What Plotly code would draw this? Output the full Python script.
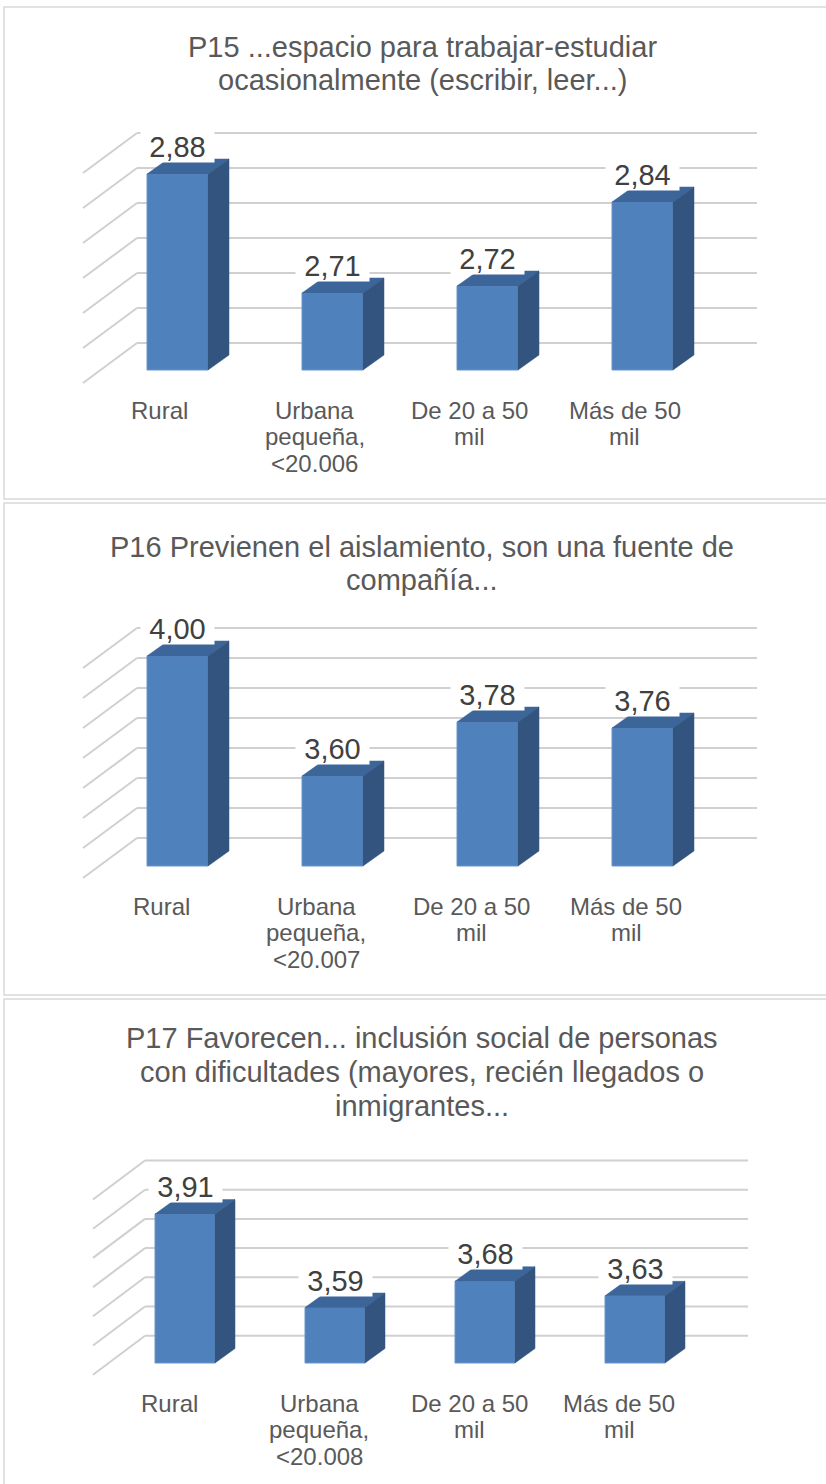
import plotly.graph_objects as go

W, H = 826, 1484

# ---------------- data ----------------
titles_p15 = ["P15 ...espacio para trabajar-estudiar", "ocasionalmente (escribir, leer...)"]
titles_p16 = ["P16 Previenen el aislamiento, son una fuente de", "compañía..."]
titles_p17 = ["P17 Favorecen... inclusión social de personas",
              "con dificultades (mayores, recién llegados o", "inmigrantes..."]

categories_p15 = ["Rural", "Urbana\npequeña,\n<20.006", "De 20 a 50\nmil", "Más de 50\nmil"]
categories_p16 = ["Rural", "Urbana\npequeña,\n<20.007", "De 20 a 50\nmil", "Más de 50\nmil"]
categories_p17 = ["Rural", "Urbana\npequeña,\n<20.008", "De 20 a 50\nmil", "Más de 50\nmil"]

values_p15 = [2.88, 2.71, 2.72, 2.84]
values_p16 = [4.00, 3.60, 3.78, 3.76]
values_p17 = [3.91, 3.59, 3.68, 3.63]

ticks_p15 = [2.60, 2.65, 2.70, 2.75, 2.80, 2.85, 2.90]
ticks_p16 = [3.3, 3.4, 3.5, 3.6, 3.7, 3.8, 3.9, 4.0]
ticks_p17 = [3.4, 3.5, 3.6, 3.7, 3.8, 3.9, 4.0]

# ---------------- layout geometry (pixels) ----------------
geo_p15 = dict(top=7, bottom=499, floor=370, ppu=700, cx0=177.5, slot=155, DX=54, DY=40,
               frac=0.325, bw=61, bdx=21, bdy=15, wall=(137, 757), title_y=[47, 80], cat_y=410)
geo_p16 = dict(top=503, bottom=995, floor=866, ppu=300, cx0=177.5, slot=155, DX=54, DY=40,
               frac=0.3, bw=61, bdx=21, bdy=15, wall=(137, 757), title_y=[547, 580], cat_y=906)
geo_p17 = dict(top=999, bottom=1484, floor=1363, ppu=292, cx0=185, slot=150, DX=52, DY=39,
               frac=0.3, bw=60, bdx=20, bdy=14.5, wall=(145, 748), title_y=[1038, 1072, 1106],
               cat_y=1403)

panels = [
    (titles_p15, categories_p15, values_p15, ticks_p15, geo_p15),
    (titles_p16, categories_p16, values_p16, ticks_p16, geo_p16),
    (titles_p17, categories_p17, values_p17, ticks_p17, geo_p17),
]

FONT = "Liberation Sans, Arial, sans-serif"
FRONT = "#4f81bd"
TOP = "#3c659a"
SIDE = "#33547e"
GRID = "#d0d0d0"
TEXT_DARK = "#404040"
TEXT_GRAY = "#595959"

fig = go.Figure()
shapes = []
annotations = []
layout_axes = {}

for k, (titles, cats, vals, ticks, g) in enumerate(panels, start=1):
    xa = "x" if k == 1 else f"x{k}"
    ya = "y" if k == 1 else f"y{k}"
    xname = "xaxis" if k == 1 else f"xaxis{k}"
    yname = "yaxis" if k == 1 else f"yaxis{k}"
    vmin = ticks[0]
    ppu, slot, cx0 = g["ppu"], g["slot"], g["cx0"]

    def X(px):
        return (px - cx0) / slot

    def Y(v, d):
        # value v at depth d (0 front, 1 back) expressed in bar-plane data units
        return v + (d - g["frac"]) * g["DY"] / ppu

    yr = [vmin + (g["floor"] - g["bottom"]) / ppu, vmin + (g["floor"] - g["top"]) / ppu]
    xr = [X(0), X(W)]
    layout_axes[xname] = dict(domain=[0, 1], range=xr, visible=False, fixedrange=True,
                              anchor=ya)
    layout_axes[yname] = dict(domain=[1 - g["bottom"] / H, 1 - g["top"] / H], range=yr,
                              visible=False, fixedrange=True, anchor=xa)

    # back wall gridlines and left wall diagonals
    wx0, wx1 = g["wall"]
    for t in ticks:
        shapes.append(dict(type="line", xref=xa, yref=ya, layer="below",
                           x0=X(wx0), x1=X(wx1), y0=Y(t, 1), y1=Y(t, 1),
                           line=dict(color=GRID, width=2)))
        shapes.append(dict(type="line", xref=xa, yref=ya, layer="below",
                           x0=X(wx0 - g["DX"]), x1=X(wx0), y0=Y(t, 0), y1=Y(t, 1),
                           line=dict(color=GRID, width=2)))

    # front faces
    w = g["bw"] / slot
    idx = list(range(len(vals)))
    fig.add_trace(go.Bar(x=idx, y=[v - vmin for v in vals], base=vmin, width=w,
                         marker=dict(color=FRONT, line=dict(color="#6b95c9", width=1)),
                         xaxis=xa, yaxis=ya, hoverinfo="skip", showlegend=False))

    # top and side faces
    bdx = g["bdx"] / slot
    bdy = g["bdy"] / ppu
    tx, ty, sx, sy = [], [], [], []
    for i, v in zip(idx, vals):
        xl, xr_ = i - w / 2, i + w / 2
        tx += [xl, xr_, xr_ + bdx, xl + bdx, xl, None]
        ty += [v, v, v + bdy, v + bdy, v, None]
        sx += [xr_, xr_, xr_ + bdx, xr_ + bdx, xr_, None]
        sy += [vmin, v, v + bdy, vmin + bdy, vmin, None]
    fig.add_trace(go.Scatter(x=tx, y=ty, fill="toself", fillcolor=TOP, mode="lines",
                             line=dict(color=TOP, width=0.5), xaxis=xa, yaxis=ya,
                             hoverinfo="skip", showlegend=False))
    fig.add_trace(go.Scatter(x=sx, y=sy, fill="toself", fillcolor=SIDE, mode="lines",
                             line=dict(color=SIDE, width=0.5), xaxis=xa, yaxis=ya,
                             hoverinfo="skip", showlegend=False))

    # data labels
    for i, v in zip(idx, vals):
        annotations.append(dict(xref=xa, yref=ya, x=i, y=v + 27 / ppu,
                                text=f"{v:.2f}".replace(".", ","), showarrow=False,
                                font=dict(family=FONT, size=29, color=TEXT_DARK),
                                bgcolor="white", width=71, height=28, xanchor="center",
                                yanchor="middle", valign="middle"))

    # category labels (front floor)
    shift = g["frac"] * g["DX"] / slot
    for i, c in zip(idx, cats):
        for j, line in enumerate(c.split("\n")):
            annotations.append(dict(xref=xa, yref="paper", x=i - shift,
                                    y=1 - (g["cat_y"] + 26.5 * j) / H,
                                    text=line.replace("<", "&lt;"), showarrow=False,
                                    font=dict(family=FONT, size=24, color=TEXT_GRAY),
                                    xanchor="center", yanchor="middle"))

    # title lines
    for j, line in enumerate(titles):
        annotations.append(dict(xref="paper", yref="paper", x=422 / W,
                                y=1 - g["title_y"][j] / H, text=line, showarrow=False,
                                font=dict(family=FONT, size=29, color=TEXT_GRAY),
                                xanchor="center", yanchor="middle"))

    # panel border (last panel continues past the bottom edge)
    y0 = -0.02 if k == len(panels) else 1 - g["bottom"] / H
    shapes.append(dict(type="rect", xref="paper", yref="paper", layer="below",
                       x0=4 / W, x1=1.02, y0=y0,
                       y1=1 - g["top"] / H, line=dict(color="#d9d9d9", width=1.5),
                       fillcolor="rgba(0,0,0,0)"))

fig.update_layout(
    width=W, height=H, margin=dict(l=0, r=0, t=0, b=0),
    paper_bgcolor="white", plot_bgcolor="rgba(0,0,0,0)",
    showlegend=False, shapes=shapes, annotations=annotations,
    **layout_axes,
)

fig.write_html(
    "out.html",
    config={"displayModeBar": False},
    post_script="document.body.style.margin='0';document.body.style.overflow='hidden';",
)
